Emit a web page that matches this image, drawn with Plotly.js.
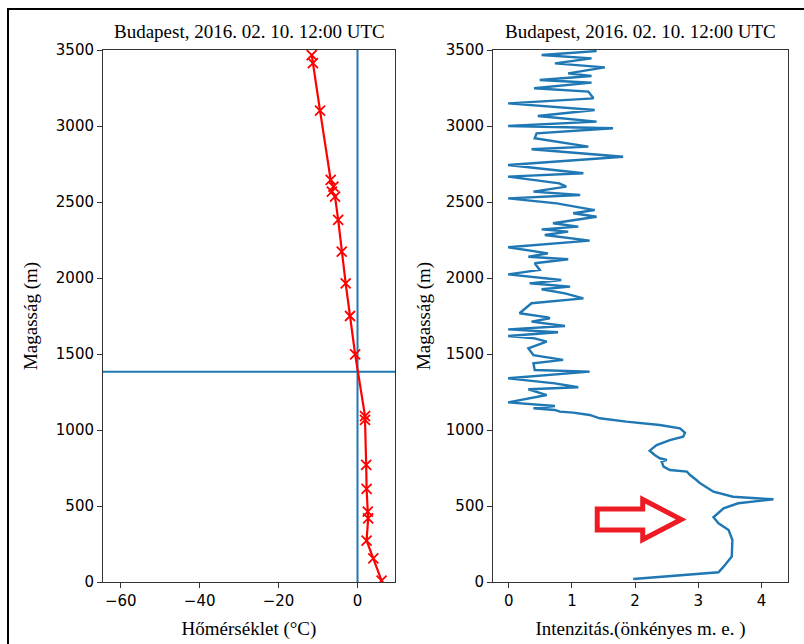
<!DOCTYPE html>
<html>
<head>
<meta charset="utf-8">
<script src="https://cdn.plot.ly/plotly-3.0.1.min.js"></script>
<style>
  html, body { margin: 0; padding: 0; background: #fff; }
  #wrap { position: relative; width: 804px; height: 644px; overflow: hidden; }
  #chart { width: 804px; height: 644px; }
  #frame { position: absolute; left: 7px; top: 8px; width: 900px; height: 700px;
           border-left: 2px solid #000; border-top: 2px solid #000; pointer-events: none; }
</style>
</head>
<body>
<div id="wrap">
  <div id="chart"></div>
  <div id="frame"></div>
</div>
<script>
// Radiosonde temperature profile (°C vs height in m)
const tempHeight = [3467, 3413, 3101, 2645, 2601, 2568, 2535, 2382, 2173, 1965, 1750, 1498,
                    1092, 1066, 770, 612, 463, 419, 272, 156, 9];
const tempValue  = [-11.6, -11.3, -9.5, -6.8, -6.1, -6.5, -5.7, -4.9, -4.0, -3.0, -1.9, -0.6,
                    1.9, 1.9, 2.2, 2.3, 2.6, 2.7, 2.3, 4.0, 6.1];

// Reference lines: freezing point and inversion base height
const freezingTemp = 0;
const inversionHeight = 1384;

// Sodar / backscatter intensity profile (arbitrary units vs height in m)
const intHeight = [3493, 3467, 3445, 3412, 3386, 3346, 3329, 3303, 3285, 3248, 3226, 3182,
                   3149, 3105, 3066, 3029, 3000, 2985, 2952, 2919, 2864, 2847, 2798, 2743,
                   2689, 2667, 2623, 2601, 2568, 2546, 2524, 2491, 2447, 2426, 2403, 2360,
                   2338, 2320, 2305, 2283, 2246, 2202, 2162, 2140, 2123, 2097, 2053, 2024,
                   1987, 1965, 1943, 1926, 1899, 1866, 1834, 1768, 1741, 1735, 1713, 1684,
                   1662, 1643, 1618, 1603, 1581, 1537, 1493, 1461, 1439, 1395, 1384, 1340,
                   1307, 1281, 1268, 1230, 1182, 1158, 1143, 1132, 1121, 1114, 1099, 1077,
                   1055, 1033, 1011, 982, 956, 934, 901, 864, 836, 814, 803, 791,
                   759, 737, 726, 704, 671, 649, 594, 561, 544, 518, 485, 441,
                   426, 386, 342, 276, 167, 101, 64, 20];
const intValue  = [1.39, 0.52, 1.31, 0.73, 1.52, 0.94, 1.31, 0.49, 1.31, 0.40, 1.26, 1.34,
                   -0.01, 1.36, 0.46, 1.39, -0.01, 1.65, 0.44, 0.41, 1.26, 0.36, 1.81, -0.01,
                   1.18, -0.01, 0.80, 0.91, 0.39, 1.13, -0.01, 0.76, 1.36, 1.02, 1.39, 0.70,
                   1.10, 0.52, 0.94, 0.57, 1.28, -0.01, 0.62, 0.31, 0.94, 0.41, 0.49, -0.01,
                   0.83, 0.33, 0.97, 0.52, 0.89, 1.18, 0.36, 0.17, 0.62, 0.65, 0.36, 0.89,
                   -0.01, 0.78, -0.01, 0.41, 0.60, 0.31, 0.39, 0.86, 0.39, 0.41, 1.28, -0.01,
                   0.73, 1.10, 0.31, 0.60, -0.01, 0.73, 0.39, 0.73, 0.81, 1.02, 1.28, 1.44,
                   1.86, 2.39, 2.71, 2.79, 2.76, 2.55, 2.34, 2.23, 2.31, 2.39, 2.50, 2.42,
                   2.45, 2.55, 2.82, 2.87, 2.97, 3.03, 3.24, 3.55, 4.19, 3.63, 3.40, 3.29,
                   3.24, 3.32, 3.48, 3.54, 3.53, 3.40, 3.32, 1.97];

// Tick values and labels
const tempTicks = [-60, -40, -20, 0];
const intTicks = [0, 1, 2, 3, 4];
const heightTicks = [0, 500, 1000, 1500, 2000, 2500, 3000, 3500];

const titleText = 'Budapest, 2016. 02. 10. 12:00 UTC';
const heightLabel = 'Magasság (m)';
const tempLabel = 'Hőmérséklet (°C)';
const intLabel = 'Intenzitás.(önkényes m. e. )';

const blue = '#1f77b4';
const serif = 'Liberation Serif, Times New Roman, serif';
const sans = 'DejaVu Sans, sans-serif';

const traces = [
  {
    x: tempValue, y: tempHeight, xaxis: 'x', yaxis: 'y',
    type: 'scatter', mode: 'lines+markers',
    line: { color: '#ff0000', width: 2.2 },
    marker: { symbol: 'x-thin', size: 10, color: '#ff0000',
              line: { color: '#ff0000', width: 1.8 } },
    cliponaxis: true, hoverinfo: 'skip'
  },
  {
    x: intValue, y: intHeight, xaxis: 'x2', yaxis: 'y2',
    type: 'scatter', mode: 'lines',
    line: { color: blue, width: 2.4 },
    hoverinfo: 'skip'
  }
];

const axisCommon = {
  showline: true, mirror: true, linecolor: '#333', linewidth: 1,
  ticks: 'outside', ticklen: 5, tickwidth: 1, tickcolor: '#333',
  showgrid: false, zeroline: false,
  tickfont: { family: sans, size: 15, color: '#000' },
  automargin: false
};

const labelFont = { family: serif, size: 19, color: '#000' };

const layout = {
  width: 804, height: 644,
  margin: { l: 0, r: 0, t: 0, b: 0 },
  paper_bgcolor: '#fff', plot_bgcolor: '#fff',
  showlegend: false,
  xaxis: Object.assign({}, axisCommon, {
    domain: [103 / 804, 395 / 804], range: [-64.5, 9.5],
    tickvals: tempTicks, ticktext: tempTicks.map(v => v < 0 ? '\u2212' + Math.abs(v) : String(v)),
    anchor: 'y',
    title: { text: tempLabel, font: labelFont, standoff: 12 }
  }),
  yaxis: Object.assign({}, axisCommon, {
    domain: [1 - 582 / 644, 1 - 50 / 644], range: [0, 3500],
    tickvals: heightTicks, anchor: 'x',
    title: { text: heightLabel, font: labelFont, standoff: 13 }
  }),
  xaxis2: Object.assign({}, axisCommon, {
    domain: [493 / 804, 788 / 804], range: [-0.25, 4.42],
    tickvals: intTicks, anchor: 'y2',
    title: { text: intLabel, font: labelFont, standoff: 12 }
  }),
  yaxis2: Object.assign({}, axisCommon, {
    domain: [1 - 582 / 644, 1 - 50 / 644], range: [0, 3500],
    tickvals: heightTicks, anchor: 'x2',
    title: { text: heightLabel, font: labelFont, standoff: 10 }
  }),
  annotations: [
    { text: titleText, xref: 'x domain', yref: 'paper', x: 0.5, y: 1 - 31 / 644,
      xanchor: 'center', yanchor: 'middle', showarrow: false, font: labelFont },
    { text: titleText, xref: 'x2 domain', yref: 'paper', x: 0.5, y: 1 - 31 / 644,
      xanchor: 'center', yanchor: 'middle', showarrow: false, font: labelFont }
  ],
  shapes: [
    // freezing line
    { type: 'line', xref: 'x', yref: 'y domain', x0: freezingTemp, x1: freezingTemp, y0: 0, y1: 1,
      line: { color: blue, width: 2 }, layer: 'below' },
    // inversion base
    { type: 'line', xref: 'x domain', yref: 'y', x0: 0, x1: 1, y0: inversionHeight, y1: inversionHeight,
      line: { color: blue, width: 2 }, layer: 'below' },
    // outlined arrow pointing at the low-level maximum
    { type: 'path', xref: 'x2', yref: 'y2',
      path: 'M 1.40,480 L 2.12,480 L 2.12,543 L 2.73,411 L 2.12,279 L 2.12,342 L 1.40,342 Z',
      line: { color: 'rgb(237,28,36)', width: 5 }, fillcolor: 'rgba(255,255,255,0)', layer: 'above' }
  ]
};

Plotly.newPlot('chart', traces, layout, { staticPlot: true, displayModeBar: false });
</script>
</body>
</html>
